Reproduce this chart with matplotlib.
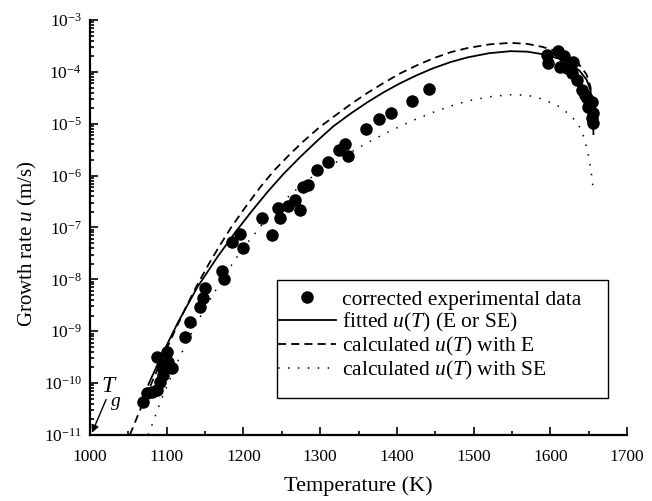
import matplotlib

matplotlib.use("Agg")
import matplotlib.pyplot as plt
import numpy as np
from matplotlib.patches import Rectangle
from matplotlib.ticker import LogLocator, LogFormatterMathtext, MultipleLocator

plt.rcParams["font.family"] = ["Liberation Serif", "DejaVu Serif"]
plt.rcParams["mathtext.fontset"] = "custom"
plt.rcParams["mathtext.rm"] = "Liberation Serif"
plt.rcParams["mathtext.it"] = "Liberation Serif:italic"

# corrected experimental growth rates (T in K, log10 of u in m/s)
T_exp = [1069, 1074, 1081, 1087, 1091, 1095, 1094, 1107, 1102, 1087, 1100,
         1124, 1130, 1143, 1147, 1150, 1172, 1174, 1185, 1196, 1200, 1224,
         1237, 1245, 1248, 1258, 1267, 1273, 1278, 1284, 1296, 1310, 1325,
         1332, 1336, 1360, 1377, 1392, 1420, 1442,
         1596, 1597, 1610, 1617, 1613, 1622, 1630, 1628, 1635, 1641, 1645,
         1648, 1654, 1649, 1656, 1654, 1656]
logu_exp = [-10.36, -10.19, -10.17, -10.13, -9.98, -9.84, -9.69, -9.71, -9.59,
            -9.49, -9.40, -9.11, -8.82, -8.53, -8.36, -8.16, -7.84, -7.99,
            -7.28, -7.12, -7.39, -6.82, -7.14, -6.62, -6.82, -6.58, -6.47,
            -6.66, -6.22, -6.18, -5.89, -5.74, -5.50, -5.39, -5.62, -5.10,
            -4.91, -4.79, -4.56, -4.33,
            -3.67, -3.83, -3.60, -3.69, -3.91, -3.92, -3.81, -4.02, -4.16,
            -4.35, -4.45, -4.50, -4.58, -4.68, -4.79, -4.89, -4.98]

# fitted u(T) (E or SE)
T_fit = [1076, 1095, 1115, 1140, 1166, 1190, 1210, 1231, 1252, 1274, 1296,
         1317, 1340, 1361, 1383, 1404, 1425, 1447, 1470, 1492, 1520, 1548,
         1570, 1590, 1610, 1625, 1638, 1647, 1652, 1655, 1656]
logu_fit = [-10.03, -9.42, -8.82, -8.15, -7.57, -7.08, -6.70, -6.32, -5.97,
            -5.64, -5.33, -5.05, -4.80, -4.59, -4.39, -4.22, -4.07, -3.93,
            -3.81, -3.72, -3.64, -3.60, -3.61, -3.66, -3.74, -3.84, -3.98,
            -4.15, -4.35, -4.70, -5.20]

# calculated u(T) with E
T_E = [1052, 1065, 1080, 1095, 1110, 1125, 1140, 1155, 1167, 1183, 1200,
       1222, 1240, 1261, 1278, 1298, 1317, 1340, 1361, 1383, 1404, 1425,
       1447, 1470, 1492, 1520, 1548, 1570, 1590, 1610, 1625, 1638, 1647,
       1652, 1655, 1656]
logu_E = [-11.00, -10.53, -10.01, -9.50, -9.01, -8.54, -8.10, -7.70, -7.40,
          -7.02, -6.66, -6.22, -5.90, -5.58, -5.34, -5.08, -4.87, -4.62,
          -4.41, -4.21, -4.03, -3.88, -3.74, -3.62, -3.54, -3.47, -3.44,
          -3.46, -3.52, -3.61, -3.72, -3.87, -4.05, -4.28, -4.65, -5.20]

# calculated u(T) with SE
T_SE = [1076, 1094, 1113, 1130, 1146, 1160, 1175, 1190, 1205, 1231, 1253,
        1274, 1296, 1317, 1340, 1361, 1383, 1404, 1425, 1447, 1470, 1492,
        1520, 1548, 1570, 1591, 1613, 1625, 1635, 1641, 1645, 1649, 1652,
        1654, 1656]
logu_SE = [-11.00, -10.28, -9.62, -9.10, -8.66, -8.30, -7.94, -7.60, -7.30,
           -6.82, -6.48, -6.20, -5.95, -5.78, -5.55, -5.37, -5.20, -5.05,
           -4.91, -4.78, -4.66, -4.56, -4.48, -4.44, -4.45, -4.53, -4.68,
           -4.83, -4.98, -5.15, -5.33, -5.58, -5.83, -6.03, -6.33]

fig = plt.figure(figsize=(6.52, 5.01), dpi=100)
ax = fig.add_axes([0.138, 0.132, 0.824, 0.828])

ax.plot(T_exp, 10.0 ** np.array(logu_exp), "o", color="black", markersize=8,
        label="corrected experimental data", zorder=3)
ax.plot(T_fit, 10.0 ** np.array(logu_fit), "-", color="black", lw=1.3,
        label="fitted $u$($T$) (E or SE)")
ax.plot(T_E, 10.0 ** np.array(logu_E), color="black", lw=1.3, dashes=(4.5, 2.8),
        label="calculated $u$($T$) with E")
ax.plot(T_SE, 10.0 ** np.array(logu_SE), color="black", lw=1.1,
        linestyle=(0, (1, 5.5)), label="calculated $u$($T$) with SE")

ax.set_yscale("log")
ax.set_xlim(1000, 1700)
ax.set_ylim(1e-11, 1e-3)
ax.xaxis.set_major_locator(MultipleLocator(100))
ax.xaxis.set_minor_locator(MultipleLocator(50))
ax.yaxis.set_major_locator(LogLocator(base=10, numticks=20))
ax.yaxis.set_minor_locator(LogLocator(base=10, subs=np.arange(2, 10), numticks=20))
ax.yaxis.set_major_formatter(LogFormatterMathtext())

for side in ("top", "right"):
    ax.spines[side].set_visible(False)
for side in ("left", "bottom"):
    ax.spines[side].set_linewidth(1.6)
ax.tick_params(which="both", direction="in", width=1.2, labelsize=12.5)
ax.tick_params(which="major", length=6)
ax.tick_params(which="minor", length=3)
ax.tick_params(axis="x", which="major", pad=10)
ax.tick_params(axis="y", which="major", pad=6)

ax.set_xlabel("Temperature (K)", fontsize=16, labelpad=8)
ax.set_ylabel("Growth rate $u$ (m/s)", fontsize=15)
ax.yaxis.set_label_coords(-0.095, 0.46)

# glass transition marker
ax.annotate("", xy=(1002.6, 1.1e-11), xytext=(1021, 4.8e-11),
            arrowprops=dict(arrowstyle="-|>", color="black", lw=1.0,
                            mutation_scale=11, shrinkA=0, shrinkB=0))
ax.text(1023.5, 8.5e-11, "T", fontsize=17, style="italic", ha="center", va="center")
ax.text(1034, 4.4e-11, "g", fontsize=14, style="italic", ha="center", va="center")

ax.legend(loc="upper left", bbox_to_anchor=(0.350, 0.350), fontsize=15.5,
          frameon=False, borderpad=0, handlelength=2.7, handletextpad=0.25,
          labelspacing=0.05, borderaxespad=0)
ax.add_patch(Rectangle((0.348, 0.089), 0.617, 0.2845, transform=ax.transAxes,
                       fill=False, edgecolor="black", lw=1.0, zorder=4))

fig.savefig("out.png", dpi=100)
